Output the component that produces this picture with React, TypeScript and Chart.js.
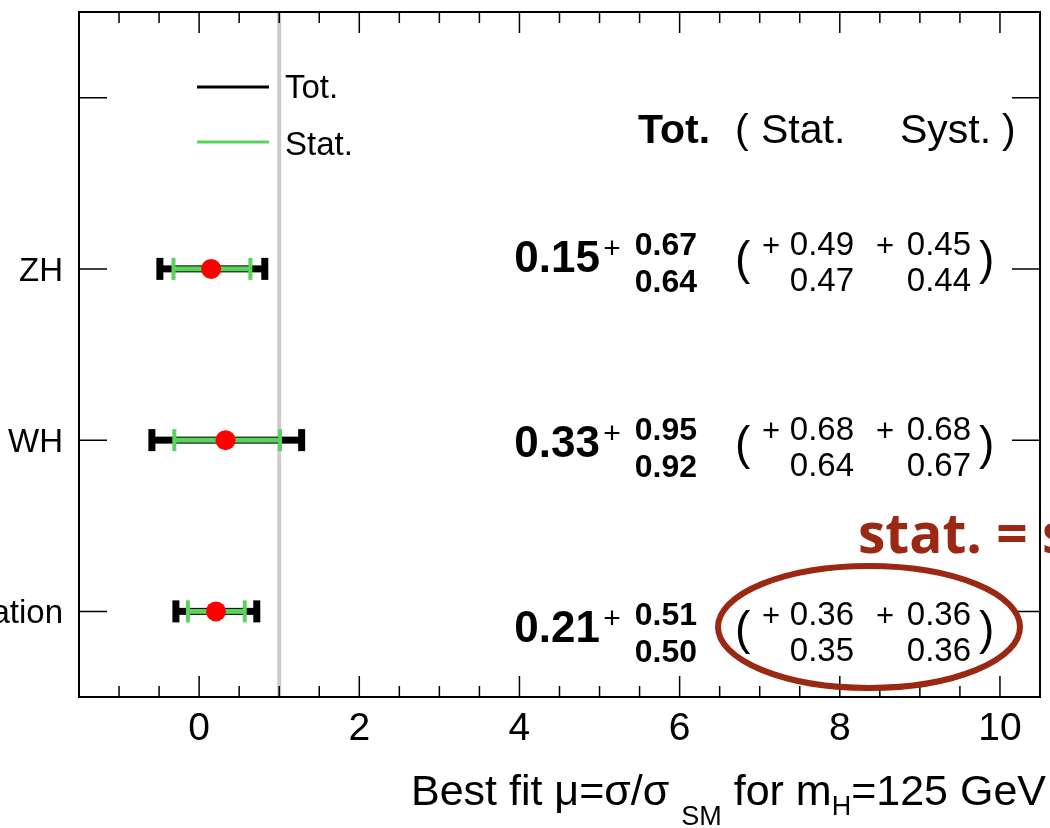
import React, { useEffect, useRef } from 'react';
import { Chart, registerables } from 'chart.js';

Chart.register(...registerables);

// ---- data ----
const categories = ['Combination', 'WH', 'ZH'];
const bestFit = [0.21, 0.33, 0.15];
const totUp = [0.51, 0.95, 0.67];
const totDown = [0.5, 0.92, 0.64];
const statUp = [0.36, 0.68, 0.49];
const statDown = [0.35, 0.64, 0.47];
const systUp = [0.36, 0.68, 0.45];
const systDown = [0.36, 0.67, 0.44];
const xMajorTicks = [0, 2, 4, 6, 8, 10];
const xMinorStep = 0.5;
const xMin = -1.5;
const xMax = 10.5;
const yTickValues = [0, 1, 2, 3];
const smReference = 1;
const headerLabels = ['Tot.', '(', 'Stat.', 'Syst.', ')'];
const legendLabels = ['Tot.', 'Stat.'];
const annotationText = 'stat. = syst.';

// ---- layout / style (pixels) ----
const W = 1050;
const H = 828;
const FONT = '"Liberation Sans", Arial, Helvetica, sans-serif';
const GREEN = '#5ad35a';
const RED = '#ff0000';
const BROWN = '#9a2812';
const textRowTop = [625, 440, 255];

const rootPlugin = {
  id: 'rootStyle',
  beforeDatasetsDraw(chart: any) {
    const { ctx, chartArea: a, scales } = chart;
    const x = scales.x;
    const y = scales.y;
    ctx.save();
    // SM reference line
    const xr = x.getPixelForValue(smReference);
    ctx.strokeStyle = '#cccccc';
    ctx.lineWidth = 4;
    ctx.beginPath();
    ctx.moveTo(xr, a.top);
    ctx.lineTo(xr, a.bottom);
    ctx.stroke();
    // error bars
    categories.forEach((_, i) => {
      const py = y.getPixelForValue(i);
      const lo = x.getPixelForValue(bestFit[i] - totDown[i]);
      const hi = x.getPixelForValue(bestFit[i] + totUp[i]);
      ctx.fillStyle = '#000';
      ctx.fillRect(lo, py - 3.5, hi - lo, 7);
      ctx.fillRect(lo - 3.5, py - 11, 7, 22);
      ctx.fillRect(hi - 3.5, py - 11, 7, 22);
      const slo = x.getPixelForValue(bestFit[i] - statDown[i]);
      const shi = x.getPixelForValue(bestFit[i] + statUp[i]);
      ctx.fillStyle = GREEN;
      ctx.fillRect(slo, py - 2.5, shi - slo, 5);
      ctx.fillRect(slo - 2, py - 11, 4, 22);
      ctx.fillRect(shi - 2, py - 11, 4, 22);
    });
    ctx.restore();
  },
  afterDraw(chart: any) {
    const { ctx, chartArea: a, scales } = chart;
    const x = scales.x;
    const y = scales.y;
    ctx.save();
    // frame
    ctx.strokeStyle = '#000';
    ctx.lineWidth = 2;
    ctx.strokeRect(a.left, a.top, a.right - a.left, a.bottom - a.top);
    // x ticks
    ctx.lineWidth = 1.5;
    const nSteps = Math.round((xMax - xMin) / xMinorStep);
    for (let k = 1; k < nSteps; k++) {
      const v = xMin + k * xMinorStep;
      const px = x.getPixelForValue(v);
      const major = xMajorTicks.some((t) => Math.abs(t - v) < 1e-6);
      const len = major ? 21 : 11;
      ctx.beginPath();
      ctx.moveTo(px, a.bottom);
      ctx.lineTo(px, a.bottom - len);
      ctx.moveTo(px, a.top);
      ctx.lineTo(px, a.top + len);
      ctx.stroke();
    }
    // y ticks
    yTickValues.forEach((v) => {
      const py = y.getPixelForValue(v);
      ctx.beginPath();
      ctx.moveTo(a.left, py);
      ctx.lineTo(a.left + 28, py);
      ctx.moveTo(a.right, py);
      ctx.lineTo(a.right - 28, py);
      ctx.stroke();
    });
    // x tick labels
    ctx.fillStyle = '#000';
    ctx.font = `39px ${FONT}`;
    ctx.textAlign = 'center';
    ctx.textBaseline = 'alphabetic';
    xMajorTicks.forEach((t) => {
      ctx.fillText(String(t), x.getPixelForValue(t), 740);
    });
    // y labels
    ctx.font = `33px ${FONT}`;
    ctx.textAlign = 'right';
    categories.forEach((c, i) => {
      ctx.fillText(c, 63, y.getPixelForValue(i) + 12);
    });
    // axis title
    const big = `43px ${FONT}`;
    const small = `27px ${FONT}`;
    const parts: [string, string, number, number][] = [
      ['Best fit \u03bc=\u03c3/\u03c3', big, 0, 0],
      ['SM', small, 20, 12],
      [' for m', big, 0, 0],
      ['H', small, 10, 0],
      ['=125 GeV', big, 0, 0],
    ];
    let total = 0;
    parts.forEach(([t, f, , gap]) => {
      ctx.font = f;
      total += ctx.measureText(t).width + gap;
    });
    let cx = 1046 - total;
    ctx.textAlign = 'left';
    parts.forEach(([t, f, dy, gap], idx) => {
      ctx.font = f;
      if (idx === 1) cx += gap;
      ctx.fillText(t, cx, 805 + dy);
      cx += ctx.measureText(t).width;
      if (idx !== 1) cx += gap;
    });
    // legend
    ctx.lineWidth = 3;
    ctx.strokeStyle = '#000';
    ctx.beginPath();
    ctx.moveTo(197, 87);
    ctx.lineTo(269, 87);
    ctx.stroke();
    ctx.strokeStyle = GREEN;
    ctx.beginPath();
    ctx.moveTo(197, 142);
    ctx.lineTo(269, 142);
    ctx.stroke();
    ctx.font = `33px ${FONT}`;
    ctx.fillText(legendLabels[0], 285, 98);
    ctx.fillText(legendLabels[1], 285, 155);
    // header
    ctx.font = `bold 41px ${FONT}`;
    ctx.fillText(headerLabels[0], 638, 143);
    ctx.font = `41px ${FONT}`;
    ctx.fillText(headerLabels[1], 735, 143);
    ctx.fillText(headerLabels[2], 761, 143);
    ctx.fillText(headerLabels[3], 900, 143);
    ctx.fillText(headerLabels[4], 1002, 143);
    // row texts
    categories.forEach((_, i) => {
      const T = textRowTop[i];
      ctx.textAlign = 'right';
      ctx.font = `bold 44px ${FONT}`;
      ctx.fillText(bestFit[i].toFixed(2), 600, T + 17);
      ctx.textAlign = 'center';
      ctx.font = `30px ${FONT}`;
      ctx.fillText('+', 612, T + 3);
      ctx.textAlign = 'right';
      ctx.font = `bold 32px ${FONT}`;
      ctx.fillText(totUp[i].toFixed(2), 697, T);
      ctx.fillText(totDown[i].toFixed(2), 697, T + 37);
      ctx.textAlign = 'left';
      ctx.font = `46px ${FONT}`;
      ctx.fillText('(', 735, T + 19);
      ctx.fillText(')', 979, T + 19);
      ctx.textAlign = 'center';
      ctx.font = `31px ${FONT}`;
      ctx.fillText('+', 771, T + 1);
      ctx.fillText('+', 885, T + 1);
      ctx.textAlign = 'right';
      ctx.font = `33px ${FONT}`;
      ctx.fillText(statUp[i].toFixed(2), 854, T);
      ctx.fillText(statDown[i].toFixed(2), 854, T + 36);
      ctx.fillText(systUp[i].toFixed(2), 971, T);
      ctx.fillText(systDown[i].toFixed(2), 971, T + 36);
    });
    // annotation
    ctx.strokeStyle = BROWN;
    ctx.lineWidth = 6;
    ctx.beginPath();
    ctx.ellipse(869, 627, 151, 61, 0, 0, Math.PI * 2);
    ctx.stroke();
    ctx.fillStyle = BROWN;
    ctx.textAlign = 'left';
    ctx.font = `bold 55px "Open Sans", ${FONT}`;
    ctx.fillText(annotationText, 858, 553);
    ctx.restore();
  },
};

export default function App() {
  const ref = useRef<HTMLCanvasElement | null>(null);
  useEffect(() => {
    if (!ref.current) return;
    const chart = new Chart(ref.current, {
      type: 'scatter',
      data: {
        datasets: [
          {
            data: bestFit.map((v, i) => ({ x: v, y: i })),
            pointRadius: 10,
            pointHoverRadius: 10,
            backgroundColor: RED,
            borderWidth: 0,
            pointBorderWidth: 0,
          },
        ],
      },
      options: {
        animation: false,
        responsive: false,
        devicePixelRatio: 1,
        events: [],
        layout: { padding: { left: 79, right: 5, top: 12, bottom: 131 } },
        plugins: { legend: { display: false }, tooltip: { enabled: false } },
        scales: {
          x: { type: 'linear', min: xMin, max: xMax, display: false },
          y: { type: 'linear', min: -0.5, max: 3.5, display: false },
        },
      },
      plugins: [rootPlugin],
    });
    return () => chart.destroy();
  }, []);
  return (
    <canvas
      ref={ref}
      width={W}
      height={H}
      style={{ position: 'fixed', left: 0, top: 0, width: W, height: H, background: '#fff' }}
    />
  );
}
